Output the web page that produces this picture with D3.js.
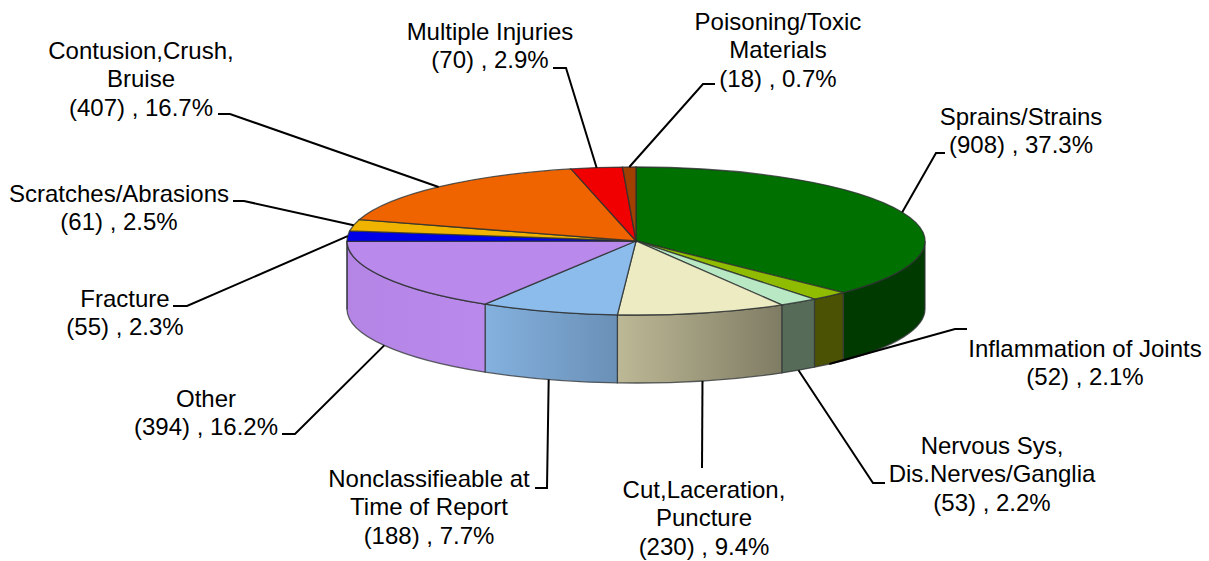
<!DOCTYPE html>
<html>
<head>
<meta charset="utf-8">
<script src="https://cdn.jsdelivr.net/npm/d3@7"></script>
<style>
  html, body { margin: 0; padding: 0; background: #fff; }
  text { font-family: "Liberation Sans", Arial, sans-serif; font-size: 24px; fill: #000; }
</style>
</head>
<body>
<div id="chart"></div>
<script>
const categories = ["Sprains/Strains", "Inflammation of Joints", "Nervous Sys, Dis.Nerves/Ganglia",
    "Cut,Laceration, Puncture", "Nonclassifieable at Time of Report", "Other", "Fracture",
    "Scratches/Abrasions", "Contusion,Crush, Bruise", "Multiple Injuries", "Poisoning/Toxic Materials"];
const counts = [908, 52, 53, 230, 188, 394, 55, 61, 407, 70, 18];
const percents = ["37.3", "2.1", "2.2", "9.4", "7.7", "16.2", "2.3", "2.5", "16.7", "2.9", "0.7"];
const topColors = ["#007000", "#8fbb00", "#b8e8c4", "#ecebc2", "#8cbcec", "#b98aeb", "#0000e6", "#f0b400", "#f06400", "#f00000", "#a04000"];
const wallLeft = ["#013a01", "#4b5203", "#566c58", "#bdb996", "#84b1df", "#b585e6", "#0000a0", "#a07800", "#a04000", "#a00000", "#602000"];
const wallRight = ["#013a01", "#4b5203", "#566c58", "#7f7c64", "#6a90b6", "#b98aeb", "#0000a0", "#a07800", "#a04000", "#a00000", "#602000"];

// label layout: wrapped lines, text anchor point, leader elbow and its end near the text
const labelLines = [
    ["Sprains/Strains"], ["Inflammation of Joints"], ["Nervous Sys,", "Dis.Nerves/Ganglia"],
    ["Cut,Laceration,", "Puncture"], ["Nonclassifieable at", "Time of Report"], ["Other"], ["Fracture"],
    ["Scratches/Abrasions"], ["Contusion,Crush,", "Bruise"], ["Multiple Injuries"], ["Poisoning/Toxic", "Materials"]
];
const labelAt = [[1021, 125], [1085, 357], [992, 454], [704, 498], [429, 487], [206, 407], [125, 307], [119, 202], [141, 59], [490, 40], [778, 30]];
const elbows = [[[936, 153], [945, 153]], [[955, 329], [967, 329]], [[873, 483], [885, 483]],
    [[702, 468], [702, 468]], [[547, 488], [535, 488]], [[295, 434], [282, 434]], [[187, 306], [173, 306]],
    [[244, 201], [233, 201]], [[230, 114], [218, 114]], [[566, 68], [553, 68]], [[703, 84], [715, 84]]];

const width = 1209, height = 561;
const cx = 636, cy = 241, rx = 289, ry = 74, depth = 68;

const svg = d3.select("#chart").append("svg")
    .attr("width", width)
    .attr("height", height);

const slices = d3.pie().sort(null)(counts);
const rim = a => [cx + rx * Math.sin(a), cy - ry * Math.cos(a)];

const defs = svg.append("defs");
categories.forEach((c, i) => {
    const g = defs.append("linearGradient").attr("id", "wall" + i);
    g.append("stop").attr("offset", 0).attr("stop-color", wallLeft[i]);
    g.append("stop").attr("offset", 1).attr("stop-color", wallRight[i]);
});

// side walls, only the front half of the pie shows
const walls = svg.append("g");
slices.forEach((s, i) => {
    const a0 = Math.max(s.startAngle, Math.PI / 2);
    const a1 = Math.min(s.endAngle, Math.PI * 1.5);
    if (a1 <= a0) return;
    const p0 = rim(a0), p1 = rim(a1);
    walls.append("path")
        .attr("d", `M${p0[0]},${p0[1]}A${rx},${ry} 0 0 1 ${p1[0]},${p1[1]}` +
            `L${p1[0]},${p1[1] + depth}A${rx},${ry} 0 0 0 ${p0[0]},${p0[1] + depth}Z`)
        .attr("fill", `url(#wall${i})`)
        .attr("stroke", "#33373a")
        .attr("stroke-opacity", 0.8)
        .attr("stroke-width", 1.3);
});

// top face, a circular d3.arc squashed to the ellipse
const arc = d3.arc().innerRadius(0).outerRadius(rx);
svg.append("g")
    .attr("transform", `translate(${cx},${cy}) scale(1,${ry / rx})`)
    .selectAll("path")
    .data(slices)
    .join("path")
    .attr("d", arc)
    .attr("fill", (d, i) => topColors[i])
    .attr("stroke", "#2c3030")
    .attr("stroke-opacity", 0.8)
    .attr("stroke-width", 1.3)
    .attr("vector-effect", "non-scaling-stroke");

// leaders start on the rim at each slice's mid angle
const leaders = svg.append("g");
const lineGen = d3.line();
slices.forEach((s, i) => {
    const mid = (s.startAngle + s.endAngle) / 2;
    const p = rim(mid);
    if (Math.cos(mid) < 0) p[1] += depth;
    leaders.append("path")
        .attr("d", lineGen([p, elbows[i][0], elbows[i][1]]))
        .attr("fill", "none")
        .attr("stroke", "#000")
        .attr("stroke-width", 2);
});

const labels = svg.append("g").attr("text-anchor", "middle");
categories.forEach((c, i) => {
    const lines = labelLines[i].concat(`(${counts[i]}) , ${percents[i]}%`);
    const t = labels.append("text")
        .attr("x", labelAt[i][0])
        .attr("y", labelAt[i][1]);
    lines.forEach((l, j) => {
        t.append("tspan")
            .attr("x", labelAt[i][0])
            .attr("dy", j === 0 ? 0 : 28.4)
            .text(l);
    });
});
</script>
</body>
</html>
